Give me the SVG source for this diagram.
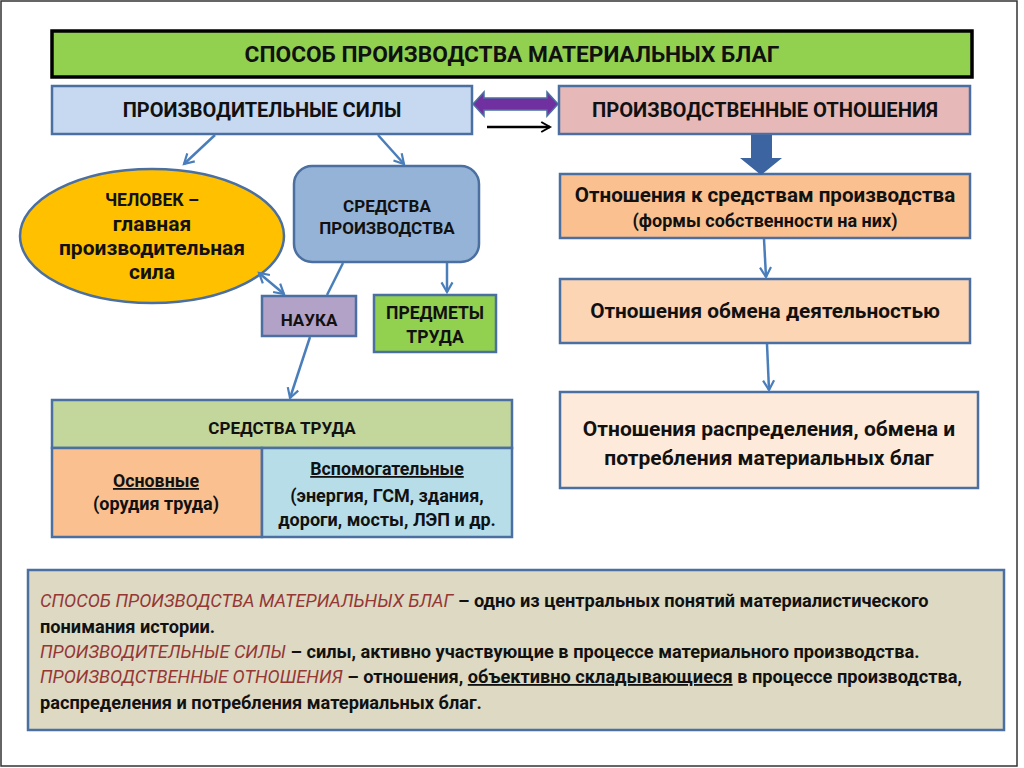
<svg xmlns="http://www.w3.org/2000/svg" width="1024" height="768" viewBox="0 0 1024 768">
<defs>
<style>
text{font-family:Roboto,"Noto Sans","Liberation Sans",sans-serif;font-weight:bold;fill:#111;}
.c{text-anchor:middle;}
.box{stroke:#4A6FA0;stroke-width:2.5;}
.con{stroke:#4A7EBB;stroke-width:2.5;fill:none;}
.red{fill:#953735;font-style:italic;font-weight:normal;}
</style>
<marker id="ah" viewBox="0 0 10 10" refX="8" refY="5" markerWidth="5.5" markerHeight="5.5" orient="auto-start-reverse" markerUnits="strokeWidth">
<path d="M1,1 L8,5 L1,9" fill="none" stroke="#4A7EBB" stroke-width="1.6"/>
</marker>
<marker id="ahk" viewBox="0 0 10 10" refX="8" refY="5" markerWidth="5" markerHeight="5" orient="auto" markerUnits="strokeWidth">
<path d="M1,1 L8,5 L1,9" fill="none" stroke="#000" stroke-width="1.6"/>
</marker>
</defs>
<rect x="0" y="0" width="1024" height="768" fill="#fff"/>
<rect x="1" y="1" width="1016" height="765" fill="none" stroke="#333" stroke-width="1.5"/>

<g id="title">
<rect x="52" y="31" width="920" height="46" fill="#92D050" stroke="#000" stroke-width="3.5"/>
<text x="512" y="62" class="c" font-size="22.7">СПОСОБ ПРОИЗВОДСТВА МАТЕРИАЛЬНЫХ БЛАГ</text>
</g>

<g id="forces">
<rect x="52" y="86" width="420" height="48" fill="#C6D9F1" class="box"/>
<text x="262" y="117" class="c" font-size="20">ПРОИЗВОДИТЕЛЬНЫЕ СИЛЫ</text>
</g>

<g id="relations">
<rect x="559" y="86" width="411" height="48" fill="#E6B9B8" class="box"/>
<text x="765" y="117" class="c" font-size="20.2">ПРОИЗВОДСТВЕННЫЕ ОТНОШЕНИЯ</text>
</g>

<g id="human">
<ellipse cx="152" cy="236" rx="132" ry="67" fill="#FFC000" stroke="#4A6FA0" stroke-width="2.5"/>
<text x="152" y="206" class="c" font-size="17.5">ЧЕЛОВЕК –</text>
<text x="152" y="231" class="c" font-size="21">главная</text>
<text x="152" y="255" class="c" font-size="21">производительная</text>
<text x="152" y="279" class="c" font-size="21">сила</text>
</g>

<g id="means">
<rect x="294" y="166" width="185" height="96" rx="18" fill="#95B3D7" class="box"/>
<text x="387" y="212" class="c" font-size="17">СРЕДСТВА</text>
<text x="387" y="234" class="c" font-size="17">ПРОИЗВОДСТВА</text>
</g>

<g id="science">
<rect x="262" y="296" width="94" height="40" fill="#B3A2C7" class="box"/>
<text x="309" y="326" class="c" font-size="17">НАУКА</text>
</g>

<g id="objects">
<rect x="374" y="295" width="122" height="57" fill="#92D050" class="box"/>
<text x="435" y="319" class="c" font-size="17.5">ПРЕДМЕТЫ</text>
<text x="435" y="343" class="c" font-size="17.5">ТРУДА</text>
</g>

<g id="labour">
<rect x="52" y="400" width="460" height="48" fill="#C3D69B" class="box"/>
<rect x="52" y="448" width="210" height="89" fill="#FAC090" class="box"/>
<rect x="262" y="448" width="250" height="89" fill="#B7DEE8" class="box"/>
<text x="282" y="434" class="c" font-size="17">СРЕДСТВА ТРУДА</text>
<text x="156" y="487" class="c" font-size="17.8" text-decoration="underline">Основные</text>
<text x="156" y="510" class="c" font-size="18">(орудия труда)</text>
<text x="387" y="475" class="c" font-size="17.8" text-decoration="underline">Вспомогательные</text>
<text x="387" y="502" class="c" font-size="18">(энергия, ГСМ, здания,</text>
<text x="387" y="526" class="c" font-size="18">дороги, мосты, ЛЭП и др.</text>
</g>

<g id="rel1">
<rect x="560" y="174" width="410" height="64" fill="#FAC090" class="box"/>
<text x="765" y="202" class="c" font-size="20.6">Отношения к средствам производства</text>
<text x="765" y="227" class="c" font-size="18">(формы собственности на них)</text>
</g>

<g id="rel2">
<rect x="560" y="279" width="410" height="64" fill="#FCD5B5" class="box"/>
<text x="765" y="318" class="c" font-size="20.8">Отношения обмена деятельностью</text>
</g>

<g id="rel3">
<rect x="560" y="392" width="418" height="96" fill="#FDEADA" class="box"/>
<text x="769" y="436" class="c" font-size="21">Отношения распределения, обмена и</text>
<text x="769" y="465" class="c" font-size="21">потребления материальных благ</text>
</g>

<g id="connectors">
<path d="M473,104 L484,92 L484,98 L547,98 L547,92 L558,104 L547,116 L547,110 L484,110 L484,116 Z" fill="#7030A0" stroke="#4A6FA0" stroke-width="1.5"/>
<line x1="487" y1="127" x2="550" y2="127" stroke="#000" stroke-width="2.5" marker-end="url(#ahk)"/>
<path d="M751,135 L772,135 L772,158 L782,158 L761,175 L740,158 L751,158 Z" fill="#3B64A0"/>
<line x1="215" y1="135" x2="184" y2="164" class="con" marker-end="url(#ah)"/>
<line x1="378" y1="135" x2="404" y2="164" class="con" marker-end="url(#ah)"/>
<line x1="343" y1="263" x2="327" y2="295" class="con"/>
<line x1="310" y1="337" x2="290" y2="398" class="con" marker-end="url(#ah)"/>
<line x1="259" y1="273" x2="284" y2="294" class="con" marker-start="url(#ah)" marker-end="url(#ah)"/>
<line x1="447" y1="263" x2="447" y2="292" class="con" marker-end="url(#ah)"/>
<line x1="764" y1="239" x2="766" y2="277" class="con" marker-end="url(#ah)"/>
<line x1="767" y1="344" x2="769" y2="390" class="con" marker-end="url(#ah)"/>
</g>

<g id="note">
<rect x="28" y="570" width="976" height="160" fill="#DDD9C3" stroke="#4A6FA0" stroke-width="2.5"/>
<text x="40" y="607" font-size="18.2"><tspan class="red">СПОСОБ ПРОИЗВОДСТВА МАТЕРИАЛЬНЫХ БЛАГ</tspan> – одно из центральных понятий материалистического</text>
<text x="40" y="633" font-size="18.2">понимания истории.</text>
<text x="40" y="658" font-size="18.2"><tspan class="red">ПРОИЗВОДИТЕЛЬНЫЕ СИЛЫ</tspan> – силы, активно участвующие в процессе материального производства.</text>
<text x="40" y="683" font-size="18.2"><tspan class="red">ПРОИЗВОДСТВЕННЫЕ ОТНОШЕНИЯ</tspan> –  отношения, <tspan text-decoration="underline">объективно складывающиеся</tspan> в процессе производства,</text>
<text x="40" y="709" font-size="18.2">распределения и потребления материальных благ.</text>
</g>
</svg>
